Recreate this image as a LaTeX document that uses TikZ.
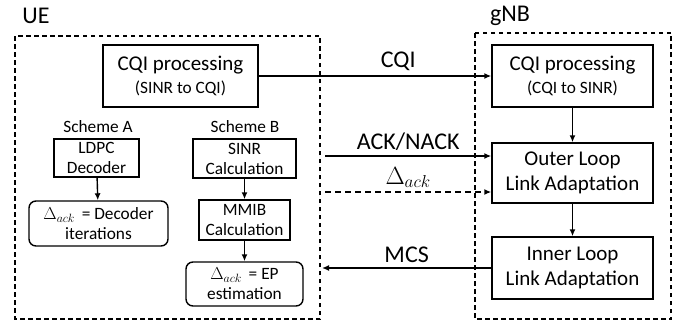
\documentclass[tikz,border=0pt]{standalone}
\usepackage{fontspec}
\setmainfont{Carlito}
\usetikzlibrary{positioning,arrows.meta}

\newcommand{\bigtxt}{\fontsize{21}{25.5}\selectfont}
\newcommand{\smalltxt}{\fontsize{17.3}{20}\selectfont}
\newcommand{\linktxt}{\fontsize{24}{28}\selectfont}

\tikzset{
    blk/.style={draw, line width=1.4pt, align=center, inner sep=0pt, font=\bigtxt},
    sblk/.style={blk, font=\smalltxt},
    rblk/.style={sblk, rounded corners=7pt},
    frame/.style={draw, line width=1.1pt, dash pattern=on 4.5pt off 3.5pt},
    flow/.style={-{Latex[length=7pt,width=6pt]}, line width=1.4pt},
}

\begin{document}
\begin{tikzpicture}[x=1pt,y=-1pt]
    \useasboundingbox (0,0) rectangle (686,324);
    % frames
    \draw[frame] (15,36) rectangle (320,319);
    \draw[frame] (475,33) rectangle (671,319);
    \node[font=\linktxt] (ue) at (36,16) {UE};
    \node[font=\linktxt] (gnb) at (510,16) {gNB};
    % UE side
    \node[blk, minimum width=155pt, minimum height=62pt] (uecqi) at (180.5,76)
        {CQI processing\\[-2pt]{\smalltxt (SINR to CQI)}};
    \node[font=\smalltxt] (schA) at (98,127) {Scheme A};
    \node[font=\smalltxt] (schB) at (245,127) {Scheme B};
    \node[sblk, minimum width=85pt, minimum height=38pt] (ldpc) at (96.5,158) {LDPC\\Decoder};
    \node[rblk, minimum width=139pt, minimum height=45pt] (dltA) at (98.5,223.5)
        {$\Delta_{ack}$ \,= Decoder\\iterations};
    \node[sblk, minimum width=103pt, minimum height=39pt] (sinr) at (244.5,158.5) {SINR\\Calculation};
    \node[sblk, minimum width=91pt, minimum height=40pt] (mmib) at (244.5,220) {MMIB\\Calculation};
    \node[rblk, minimum width=117pt, minimum height=44pt] (dltB) at (244.5,284)
        {$\Delta_{ack}$ \,= EP\\estimation};
    \draw[flow] (ldpc) -- (dltA);
    \draw[flow] (sinr) -- (mmib);
    \draw[flow] (mmib) -- (dltB);
    % gNB side
    \node[blk, minimum width=161pt, minimum height=62pt] (gcqi) at (572.5,76)
        {CQI processing\\[-2pt]{\smalltxt (CQI to SINR)}};
    \node[blk, minimum width=161pt, minimum height=60pt] (olla) at (572.5,173) {Outer Loop\\Link Adaptation};
    \node[blk, minimum width=161pt, minimum height=62pt] (illa) at (572.5,268) {Inner Loop\\Link Adaptation};
    \draw[flow] (gcqi) -- (olla);
    \draw[flow] (olla) -- (illa);
    % links between UE and gNB
    \coordinate (ackS) at (325,156);
    \coordinate (dltS) at (325,192);
    \coordinate (mcsE) at (322,268);
    \draw[flow] (uecqi) -- node[above=1pt, font=\linktxt, pos=0.6] (lcqi) {CQI} (gcqi);
    \draw[flow] (ackS) -- node[above=1pt, font=\linktxt] (lack) {ACK/NACK} (ackS -| olla.west);
    \draw[flow, dash pattern=on 6pt off 4pt] (dltS) -- node[above=0pt, font=\linktxt] (ldlt) {$\Delta_{ack}$} (dltS -| olla.west);
    \draw[flow] (illa) -- node[above=1pt, font=\linktxt] (lmcs) {MCS} (mcsE);
\end{tikzpicture}
\end{document}
